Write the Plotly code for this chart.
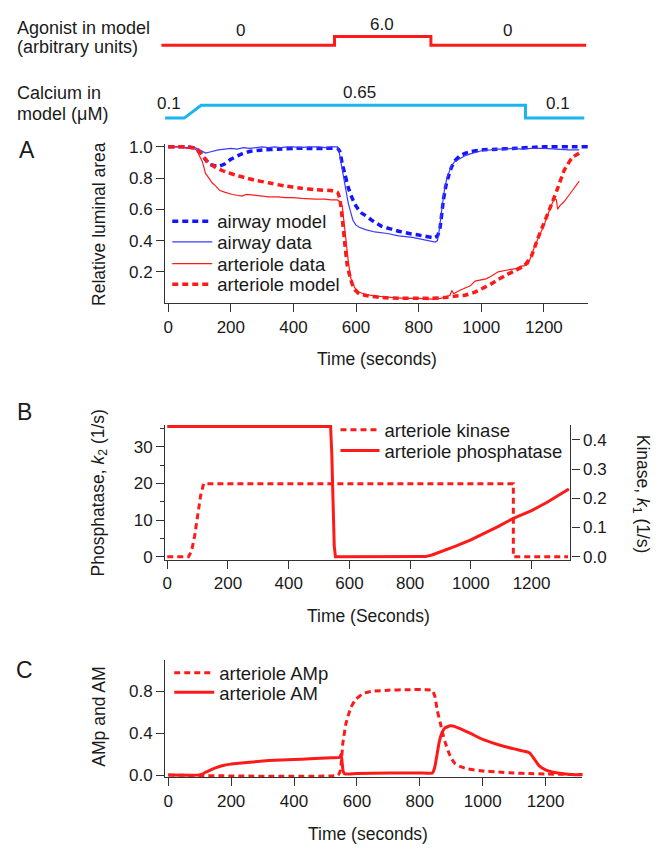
import plotly.graph_objects as go

W, H = 662, 852

# ---------------- data ----------------
agonist_t = [-22, 531, 531, 839, 839, 1335]
agonist = [0, 0, 6, 6, 0, 0]
calcium_t = [-10, 51, 105, 1141, 1141, 1329]
calcium = [0.1, 0.1, 0.65, 0.65, 0.1, 0.1]

airway_model_t = [0, 60, 90, 100, 115, 130, 145, 160, 180, 200, 230, 260, 300, 350, 400, 450, 500, 540,
                  548, 556, 565, 575, 588, 600, 615, 630, 650, 683, 710, 736, 770, 800, 842, 852, 860,
                  868, 879, 887, 895, 905, 916, 930, 950, 969, 1000, 1050, 1100, 1200, 1300, 1340]
airway_model = [1.0, 1.0, 0.99, 0.97, 0.93, 0.89, 0.88, 0.875, 0.89, 0.92, 0.95, 0.97, 0.98, 0.985, 0.99,
                0.99, 0.99, 0.99, 0.97, 0.89, 0.82, 0.74, 0.67, 0.62, 0.58, 0.56, 0.53, 0.49, 0.475, 0.46,
                0.445, 0.435, 0.42, 0.42, 0.43, 0.48, 0.66, 0.75, 0.81, 0.87, 0.91, 0.94, 0.96, 0.97, 0.98,
                0.985, 0.99, 1.0, 1.0, 1.0]
airway_data_t = [0, 20, 40, 60, 80, 90, 100, 110, 120, 130, 140, 160, 180, 200, 220, 240, 260, 280, 300,
                 320, 340, 360, 380, 400, 420, 450, 480, 500, 520, 540, 545, 550, 556, 560, 567, 575, 583,
                 590, 599, 610, 630, 660, 700, 736, 780, 820, 842, 853, 860, 866, 874, 882, 890, 895, 905,
                 915, 927, 945, 965, 980, 1000, 1030, 1050, 1080, 1100, 1130, 1160, 1200, 1230, 1250, 1280,
                 1300, 1313]
airway_data = [1.0, 1.0, 1.0, 0.995, 1.0, 0.99, 0.98, 0.965, 0.96, 0.965, 0.97, 0.98, 0.985, 0.99, 0.985,
               0.995, 0.99, 0.995, 1.0, 0.995, 1.0, 0.995, 1.0, 1.0, 0.995, 1.0, 1.0, 0.995, 1.0, 1.0, 0.98,
               0.92, 0.85, 0.80, 0.72, 0.64, 0.58, 0.53, 0.50, 0.485, 0.47, 0.455, 0.445, 0.43, 0.42, 0.405,
               0.395, 0.39, 0.40, 0.47, 0.60, 0.72, 0.80, 0.83, 0.88, 0.905, 0.92, 0.94, 0.955, 0.965, 0.975,
               0.98, 0.985, 0.985, 0.99, 0.985, 0.99, 0.99, 0.985, 0.985, 0.98, 0.98, 0.98]
arteriole_data_t = [0, 20, 40, 60, 80, 90, 95, 100, 108, 114, 119, 130, 140, 151, 165, 180, 193, 205, 220,
                    235, 250, 267, 285, 300, 320, 350, 375, 400, 426, 450, 470, 500, 520, 540, 548, 556,
                    561, 567, 575, 583, 595, 609, 630, 660, 683, 720, 760, 800, 842, 870, 890, 900, 906,
                    912, 930, 950, 965, 980, 1000, 1015, 1030, 1054, 1080, 1095, 1110, 1125, 1138, 1150,
                    1159, 1170, 1185, 1201, 1215, 1233, 1240, 1244, 1250, 1265, 1280, 1300, 1313]
arteriole_data = [1.0, 1.0, 1.0, 0.99, 0.99, 0.98, 0.96, 0.94, 0.91, 0.87, 0.83, 0.80, 0.77, 0.75, 0.72,
                  0.71, 0.70, 0.695, 0.69, 0.685, 0.695, 0.69, 0.685, 0.685, 0.68, 0.68, 0.675, 0.675, 0.67,
                  0.665, 0.665, 0.665, 0.66, 0.66, 0.65, 0.62, 0.52, 0.39, 0.27, 0.16, 0.10, 0.07, 0.055,
                  0.045, 0.04, 0.035, 0.03, 0.03, 0.025, 0.03, 0.04, 0.05, 0.08, 0.06, 0.08, 0.10, 0.11,
                  0.14, 0.15, 0.155, 0.17, 0.20, 0.21, 0.215, 0.22, 0.235, 0.24, 0.25, 0.30, 0.36, 0.43,
                  0.50, 0.58, 0.67, 0.66, 0.60, 0.62, 0.65, 0.69, 0.74, 0.78]
arteriole_model_t = [0, 60, 90, 100, 110, 129, 150, 170, 190, 214, 250, 280, 320, 370, 426, 470, 520, 540,
                     548, 556, 564, 572, 583, 594, 610, 640, 683, 740, 800, 842, 880, 920, 948, 980, 1000,
                     1030, 1054, 1080, 1110, 1138, 1160, 1180, 1200, 1222, 1245, 1265, 1290, 1313]
arteriole_model = [1.0, 1.0, 0.99, 0.97, 0.94, 0.90, 0.87, 0.85, 0.835, 0.82, 0.80, 0.785, 0.77, 0.75,
                   0.735, 0.725, 0.72, 0.71, 0.67, 0.54, 0.38, 0.24, 0.15, 0.09, 0.06, 0.045, 0.035, 0.03,
                   0.03, 0.03, 0.035, 0.045, 0.05, 0.07, 0.09, 0.12, 0.15, 0.18, 0.21, 0.24, 0.30, 0.41,
                   0.51, 0.62, 0.74, 0.85, 0.93, 0.96]

kinase_t = [0, 70, 80, 90, 100, 110, 120, 1140, 1140, 1320]
kinase = [0, 0, 0.02, 0.07, 0.14, 0.21, 0.25, 0.25, 0, 0]
phosphatase_t = [0, 538, 542, 546, 550, 554, 600, 700, 800, 850, 872, 900, 950, 1000, 1050, 1091, 1140,
                 1200, 1250, 1323]
phosphatase = [35.5, 35.5, 28, 14, 3, 0, 0, 0, 0, 0.05, 0.5, 1.3, 2.9, 4.6, 6.6, 8.3, 10.5, 12.6, 14.8,
               18.5]

amp_t = [0, 540, 548, 555, 565, 580, 595, 607, 620, 649, 700, 760, 820, 840, 848, 856, 865, 871, 880,
         890, 900, 912, 930, 950, 1000, 1050, 1100, 1150, 1200, 1320]
amp = [0, 0, 0.05, 0.3, 0.49, 0.64, 0.72, 0.75, 0.78, 0.80, 0.81, 0.815, 0.815, 0.81, 0.75, 0.61, 0.5,
       0.42, 0.32, 0.23, 0.16, 0.11, 0.08, 0.06, 0.04, 0.03, 0.02, 0.015, 0.01, 0.005]
am_t = [0, 95, 108, 120, 135, 150, 171, 200, 250, 319, 400, 450, 519, 545, 550, 553, 556, 560, 565, 600,
        700, 800, 840, 848, 855, 862, 870, 880, 897, 910, 930, 960, 1000, 1050, 1100, 1137, 1150, 1165,
        1179, 1200, 1221, 1250, 1280, 1320]
am = [0, 0, 0.01, 0.03, 0.05, 0.07, 0.09, 0.105, 0.12, 0.14, 0.15, 0.155, 0.165, 0.17, 0.2, 0.12, 0.04,
      0.015, 0.01, 0.015, 0.02, 0.02, 0.02, 0.08, 0.2, 0.32, 0.4, 0.45, 0.47, 0.465, 0.44, 0.4, 0.34,
      0.29, 0.25, 0.225, 0.21, 0.15, 0.09, 0.05, 0.03, 0.015, 0.007, 0.003]

time_ticks = [0, 200, 400, 600, 800, 1000, 1200]

# ---------------- styling ----------------
RED = "#ff1a1a"
BLUE = "#1414ff"
BLUE_THIN = "#3a3aff"
CYAN = "#1ab4ee"
AXC = "#333333"
TXT = "#1a1a1a"
FONT = "Liberation Sans, Arial, sans-serif"
TICKF = 17
TITF = 17.5
LEGF = 18.5
DASH = "6px,4px"


def fx(px):
    return px / W


def fy(py):
    return 1 - py / H


fig = go.Figure()
fig.add_trace(go.Scatter(x=agonist_t, y=agonist, mode="lines", line=dict(color=RED, width=3),
                         xaxis="x4", yaxis="y5", showlegend=False, hoverinfo="skip"))
fig.add_trace(go.Scatter(x=calcium_t, y=calcium, mode="lines", line=dict(color=CYAN, width=3),
                         xaxis="x5", yaxis="y6", showlegend=False, hoverinfo="skip"))
fig.add_trace(go.Scatter(x=airway_model_t, y=airway_model, mode="lines", name="airway model",
                         line=dict(color=BLUE, width=3.5, dash=DASH, shape="spline", smoothing=0.4),
                         xaxis="x", yaxis="y", legend="legend"))
fig.add_trace(go.Scatter(x=airway_data_t, y=airway_data, mode="lines", name="airway data",
                         line=dict(color=BLUE_THIN, width=1.2), xaxis="x", yaxis="y", legend="legend2"))
fig.add_trace(go.Scatter(x=arteriole_data_t, y=arteriole_data, mode="lines", name="arteriole data",
                         line=dict(color=RED, width=1.2), xaxis="x", yaxis="y", legend="legend3"))
fig.add_trace(go.Scatter(x=arteriole_model_t, y=arteriole_model, mode="lines", name="arteriole model",
                         line=dict(color=RED, width=3.5, dash=DASH, shape="spline", smoothing=0.4),
                         xaxis="x", yaxis="y", legend="legend4"))
fig.add_trace(go.Scatter(x=kinase_t, y=kinase, mode="lines", name="arteriole kinase",
                         line=dict(color=RED, width=3, dash=DASH), xaxis="x2", yaxis="y3",
                         legend="legend5"))
fig.add_trace(go.Scatter(x=phosphatase_t, y=phosphatase, mode="lines", name="arteriole phosphatase",
                         line=dict(color=RED, width=3), xaxis="x2", yaxis="y2", legend="legend6"))
fig.add_trace(go.Scatter(x=amp_t, y=amp, mode="lines", name="arteriole AMp",
                         line=dict(color=RED, width=3, dash=DASH, shape="spline", smoothing=0.3),
                         xaxis="x3", yaxis="y4", legend="legend7"))
fig.add_trace(go.Scatter(x=am_t, y=am, mode="lines", name="arteriole AM",
                         line=dict(color=RED, width=3, shape="spline", smoothing=0.3),
                         xaxis="x3", yaxis="y4", legend="legend8"))


def xax(domain, rng, anchor):
    return dict(domain=domain, range=rng, anchor=anchor, showline=True, linecolor=AXC, linewidth=1.3,
                ticks="outside", ticklen=8, tickwidth=1.3, tickcolor=AXC, tickvals=time_ticks,
                showgrid=False, zeroline=False, tickfont=dict(size=TICKF, color=TXT, family=FONT))


def yax(domain, rng, anchor, tickvals, fmt, side="left", overlaying=None):
    d = dict(domain=domain, range=rng, anchor=anchor, showline=True, linecolor=AXC, linewidth=1.3,
             ticks="outside", ticklen=8, tickwidth=1.3, tickcolor=AXC, tickvals=tickvals,
             tickformat=fmt, showgrid=False, zeroline=False, side=side,
             tickfont=dict(size=TICKF, color=TXT, family=FONT))
    if overlaying:
        d["overlaying"] = overlaying
    return d


hidden = dict(visible=False, showgrid=False, zeroline=False)


def leg(px, center_py, iw):
    return dict(x=fx(px), y=fy(center_py - 18), xanchor="left", yanchor="top",
                bgcolor="rgba(0,0,0,0)", font=dict(size=LEGF, family=FONT, color=TXT),
                itemwidth=iw)


layout = dict(
    width=W, height=H, margin=dict(l=0, r=0, t=0, b=0), paper_bgcolor="white", plot_bgcolor="white",
    font=dict(family=FONT, color=TXT, size=TICKF),
    xaxis=xax([fx(163), fx(588)], [-9.5, 1342], "y"),
    yaxis=yax([fy(302), fy(140)], [0, 1.02], "x", [0.2, 0.4, 0.6, 0.8, 1.0], ".1f"),
    xaxis2=xax([fx(163), fx(570)], [-6.6, 1328], "y2"),
    yaxis2=yax([fy(563), fy(425.7)], [-0.8, 36.0], "x2", [0, 10, 20, 30], "d"),
    yaxis3=yax([fy(563), fy(425.7)], [-0.0101, 0.4514], "x2", [0, 0.1, 0.2, 0.3, 0.4], ".1f",
               side="right", overlaying="y2"),
    xaxis3=xax([fx(163), fx(582)], [-9.5, 1317], "y4"),
    yaxis4=yax([fy(784), fy(665)], [-0.019, 1.097], "x3", [0.0, 0.4, 0.8], ".1f"),
    xaxis4=dict(domain=[fx(150), fx(600)], range=[-50.9, 1380], anchor="y5", **hidden),
    yaxis5=dict(domain=[fy(45), fy(25)], range=[-3.333, 10.0], anchor="x4", **hidden),
    xaxis5=dict(domain=[fx(150), fx(600)], range=[-50.9, 1380], anchor="y6", **hidden),
    yaxis6=dict(domain=[fy(120), fy(90)], range=[-0.154, 1.115], anchor="x5", **hidden),
    legend=leg(165, 218, 40),
    legend2=leg(165, 239, 40),
    legend3=leg(165, 261, 40),
    legend4=leg(165, 282, 40),
    legend5=leg(334, 430, 39),
    legend6=leg(334, 451, 39),
    legend7=leg(167, 677, 40),
    legend8=leg(167, 697, 40),
)
fig.update_layout(**layout)
fig.update_layout(yaxis2=dict(minor=dict(tickvals=[5, 15, 25, 35], ticks="outside", ticklen=4,
                                         tickcolor=AXC, tickwidth=1.3)))

annots = []


def ann(text, px, py, size=TITF, angle=0, xanchor="center", yanchor="middle"):
    annots.append(dict(text=text, x=fx(px), y=fy(py), xref="paper", yref="paper", showarrow=False,
                       textangle=angle, xanchor=xanchor, yanchor=yanchor,
                       font=dict(size=size, family=FONT, color=TXT)))


ann("Agonist in model", 12, 22, size=18, xanchor="left")
ann("(arbitrary units)", 12, 42, size=18, xanchor="left")
ann("Calcium in", 12, 88, size=18, xanchor="left")
ann("model (μM)", 12, 110, size=18, xanchor="left")
ann("0", 239, 25, size=TICKF)
ann("6.0", 381, 19, size=TICKF)
ann("0", 507, 25, size=TICKF)
ann("0.1", 167, 99, size=TICKF)
ann("0.65", 358, 88, size=TICKF)
ann("0.1", 558, 99, size=TICKF)
ann("A", 24, 146, size=23)
ann("B", 22, 413, size=23)
ann("C", 22, 675, size=23)
ann("Relative luminal area", 97, 222, angle=-90)
ann("Time (seconds)", 376, 359)
ann("Phosphatase, <i>k</i><sub>2</sub> (1/s)", 97, 495, angle=-90)
ann("Kinase, <i>k</i><sub>1</sub> (1/s)", 641, 496, angle=90)
ann("Time (Seconds)", 367, 620)
ann("AMp and AM", 97, 723, angle=-90)
ann("Time (seconds)", 367, 842)

fig.update_layout(annotations=annots)
fig.write_html("out.html", config={"displayModeBar": False},
               post_script="document.body.style.margin='0px';document.body.style.padding='0px';")
